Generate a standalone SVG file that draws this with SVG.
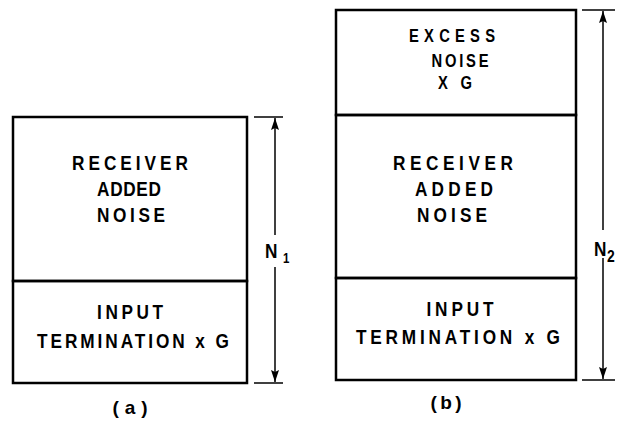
<svg xmlns="http://www.w3.org/2000/svg" width="627" height="425" viewBox="0 0 627 425">
<style>
.box{fill:none;stroke:#000;stroke-width:2.5}
.dim{stroke:#000;stroke-width:1.5;fill:none}
.tick{stroke:#000;stroke-width:1.5}
text{font-family:"Liberation Sans",Arial,sans-serif;font-weight:bold;font-size:21px;text-anchor:middle;fill:#000}
.sm{font-size:18px}
.lab{font-size:19px}
.nl{text-anchor:start}
</style>
<defs>
<marker id="ah" viewBox="0 0 12 8" refX="12" refY="4" markerWidth="12" markerHeight="8" markerUnits="userSpaceOnUse" orient="auto">
<path d="M0,0 L12,4 L0,8 L2,4 Z" fill="#000"/>
</marker>
</defs>
<rect width="627" height="425" fill="#fff"/>
<g id="diagram-a">
<g id="a-receiver">
<rect class="box" x="13" y="117" width="234" height="164"/>
<g transform="scale(0.82,1)">
<text x="158.54" y="170" textLength="141.46" lengthAdjust="spacing">RECEIVER</text>
<text x="157.32" y="196" textLength="78.05" lengthAdjust="spacing">ADDED</text>
<text x="159.76" y="222" textLength="82.93" lengthAdjust="spacing">NOISE</text>
</g>
</g>
<g id="a-input">
<rect class="box" x="13" y="281" width="234" height="102"/>
<g transform="scale(0.82,1)">
<text x="158.54" y="319" textLength="80.49" lengthAdjust="spacing">INPUT</text>
<text x="162.20" y="348" textLength="234.15" lengthAdjust="spacing">TERMINATION x G</text>
</g>
</g>
<text id="a-caption" x="130" y="414" class="lab" textLength="35" lengthAdjust="spacing">(a)</text>
</g>
<g id="diagram-b">
<g id="b-excess">
<rect class="box" x="336" y="10" width="240" height="105"/>
<g transform="scale(0.82,1)">
<text x="551.22" y="42" class="sm" textLength="104.88" lengthAdjust="spacing">EXCESS</text>
<text x="560.98" y="67" class="sm" textLength="69.51" lengthAdjust="spacing">NOISE</text>
<text x="554.88" y="89" class="sm" textLength="41.46" lengthAdjust="spacing">X G</text>
</g>
</g>
<g id="b-receiver">
<rect class="box" x="336" y="115" width="240" height="163"/>
<g transform="scale(0.82,1)">
<text x="552.44" y="170" textLength="146.34" lengthAdjust="spacing">RECEIVER</text>
<text x="553.66" y="196" textLength="95.12" lengthAdjust="spacing">ADDED</text>
<text x="551.22" y="222" textLength="85.37" lengthAdjust="spacing">NOISE</text>
</g>
</g>
<g id="b-input">
<rect class="box" x="336" y="278" width="240" height="102"/>
<g transform="scale(0.82,1)">
<text x="560.98" y="316" textLength="81.71" lengthAdjust="spacing">INPUT</text>
<text x="558.54" y="344" textLength="248.78" lengthAdjust="spacing">TERMINATION  x G</text>
</g>
</g>
<text id="b-caption" x="446" y="409" class="lab" textLength="31" lengthAdjust="spacing">(b)</text>
</g>
<g id="connectors">
<line class="tick" x1="254" y1="117" x2="283" y2="117"/>
<line class="tick" x1="254" y1="383" x2="283" y2="383"/>
<line class="dim" x1="275" y1="235" x2="275" y2="118" marker-end="url(#ah)"/>
<line class="dim" x1="275" y1="267" x2="275" y2="382" marker-end="url(#ah)"/>
<line class="tick" x1="582" y1="10" x2="615" y2="10"/>
<line class="tick" x1="582" y1="380" x2="615" y2="380"/>
<line class="dim" x1="603" y1="230" x2="603" y2="11" marker-end="url(#ah)"/>
<line class="dim" x1="603" y1="258" x2="603" y2="379" marker-end="url(#ah)"/>
</g>
<g id="dim-labels" transform="scale(0.82,1)">
<text class="nl" x="323.17" y="258">N<tspan font-size="14" x="345.12" y="263">1</tspan></text>
<text class="nl" x="724.39" y="256">N<tspan font-size="17" x="740.24" y="262">2</tspan></text>
</g>
</svg>
